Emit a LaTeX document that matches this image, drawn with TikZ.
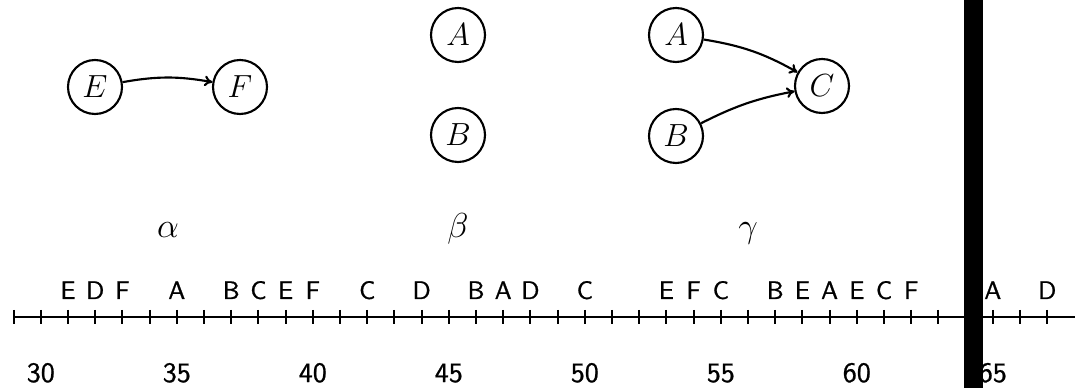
\documentclass[tikz,border=0pt]{standalone}
\usepackage{fontspec}
\usepackage{fix-cm}
\newfontfamily\axisfont{lmsans10-regular.otf}[FakeBold=0.8]
\usetikzlibrary{arrows.meta}
\begin{document}
\begin{tikzpicture}[x=0.75pt,y=-0.75pt,
  vert/.style={circle,draw,line width=1.6pt,minimum size=40.5pt,inner sep=0pt,font=\fontsize{24}{24}\selectfont},
  edge/.style={line width=1.6pt,-{To[length=6pt,width=8pt]}},
  greek/.style={anchor=base,font=\fontsize{26}{26}\selectfont},
  evt/.style={anchor=base,font=\axisfont\fontsize{19}{19}\selectfont},
  num/.style={anchor=base,font=\axisfont\fontsize{21}{21}\selectfont},
  tick/.style={line width=1.4pt}]
\useasboundingbox (0,0) rectangle (1078,388);
% graphs
\node[vert] (E) at (95,87) {$E$};
\node[vert] (F) at (240,87) {$F$};
\draw[edge] (E) to[bend left=10] (F);
\node[vert] (A1) at (458,35) {$A$};
\node[vert] (B1) at (458,135) {$B$};
\node[vert] (A2) at (676,35) {$A$};
\node[vert] (B2) at (676,136) {$B$};
\node[vert] (C2) at (822,86) {$C$};
\draw[edge] (A2) to[bend left=10] (C2);
\draw[edge] (B2) to[bend left=8] (C2);
\node[greek] (al) at (168,238) {$\alpha$};
\node[greek] (be) at (458,238) {$\beta$};
\node[greek] (ga) at (748,238) {$\gamma$};
% axis
\coordinate (ax0) at (13.6,317);
\coordinate (ax1) at (1075,317);
\draw[line width=2.1pt] (ax0) -- (ax1);
\foreach \t in {29,...,67}
  \draw[tick] ({40.8+27.2*(\t-30)},310) -- ({40.8+27.2*(\t-30)},324);
\foreach \t in {30,35,...,65}
  \node[num] (n\t) at ({40.8+27.2*(\t-30)},382) {\t};
\foreach \t/\l in {31/E,32/D,33/F,35/A,37/B,38/C,39/E,40/F,42/C,44/D,46/B,47/A,48/D,50/C,53/E,54/F,55/C,57/B,58/E,59/A,60/E,61/C,62/F,65/A,67/D}
  \node[evt] (e\t) at ({40.8+27.2*(\t-30)},299) {\l};
% cursor bar
\fill[black] (964,0) rectangle (983,388);
\end{tikzpicture}
\end{document}
